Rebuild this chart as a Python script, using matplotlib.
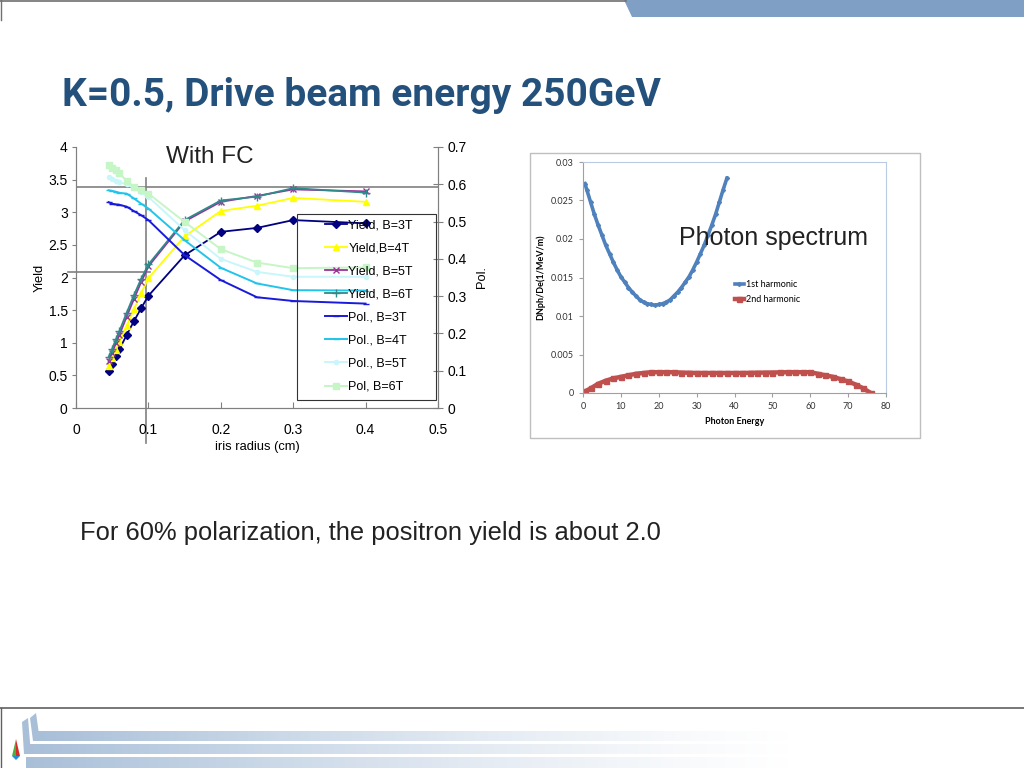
import matplotlib
matplotlib.use("Agg")
import matplotlib.pyplot as plt
import numpy as np
from matplotlib.patches import Polygon, Rectangle
from matplotlib.ticker import FuncFormatter

# ---- data ----
radius = [0.045, 0.05, 0.055, 0.06, 0.07, 0.08, 0.09, 0.1, 0.15, 0.2, 0.25, 0.3, 0.4]

yield_3t = [0.56, 0.67, 0.79, 0.90, 1.12, 1.33, 1.53, 1.72, 2.34, 2.70, 2.76, 2.88, 2.83]
yield_4t = [0.64, 0.76, 0.89, 1.01, 1.26, 1.51, 1.76, 1.99, 2.63, 3.02, 3.10, 3.22, 3.16]
yield_5t = [0.72, 0.85, 0.99, 1.12, 1.40, 1.67, 1.93, 2.17, 2.86, 3.16, 3.25, 3.35, 3.32]
yield_6t = [0.78, 0.91, 1.05, 1.18, 1.46, 1.73, 1.98, 2.20, 2.88, 3.18, 3.24, 3.37, 3.30]

pol_3t = [0.552, 0.548, 0.546, 0.545, 0.540, 0.528, 0.517, 0.504, 0.410, 0.343, 0.297, 0.287, 0.280]
pol_4t = [0.584, 0.582, 0.580, 0.577, 0.575, 0.562, 0.548, 0.535, 0.450, 0.376, 0.334, 0.316, 0.315]
pol_5t = [0.620, 0.615, 0.610, 0.605, 0.600, 0.590, 0.578, 0.566, 0.477, 0.400, 0.365, 0.352, 0.352]
pol_6t = [0.651, 0.645, 0.638, 0.629, 0.609, 0.593, 0.584, 0.575, 0.499, 0.426, 0.390, 0.375, 0.377]

yield_labels = ["Yield, B=3T", "Yield,B=4T", "Yield, B=5T", "Yield, B=6T"]
pol_labels = ["Pol., B=3T", "Pol., B=4T", "Pol., B=5T", "Pol, B=6T"]

energy_1st = [0.5, 1, 2, 3, 4, 5, 6, 7, 8, 9, 10, 11, 12, 13, 14, 15, 16, 17, 18, 19,
              20, 21, 22, 23, 24, 25, 26, 27, 28, 29, 30, 31, 32, 33, 34, 35, 36, 37, 38]
spec_1st = [0.0272, 0.0264, 0.0248, 0.0232, 0.0218, 0.0205, 0.0192, 0.0181, 0.0170, 0.0160,
            0.0151, 0.0144, 0.0137, 0.0131, 0.0126, 0.0121, 0.0118, 0.0116, 0.0115, 0.0114,
            0.0115, 0.0116, 0.0118, 0.0121, 0.0126, 0.0131, 0.0137, 0.0144, 0.0151, 0.0160,
            0.0170, 0.0181, 0.0192, 0.0205, 0.0218, 0.0232, 0.0248, 0.0264, 0.0279]

energy_2nd = [0.5, 2, 4, 6, 8, 10, 12, 14, 16, 18, 20, 22, 24, 26, 28, 30, 32, 34, 36, 38,
              40, 42, 44, 46, 48, 50, 52, 54, 56, 58, 60, 62, 64, 66, 68, 70, 72, 74, 76]
spec_2nd = [0.0002, 0.0006, 0.0012, 0.0016, 0.0019, 0.0021, 0.0023, 0.0025, 0.0026, 0.0027,
            0.0027, 0.0027, 0.0027, 0.00265, 0.00263, 0.0026, 0.0026, 0.0026, 0.0026, 0.0026,
            0.0026, 0.0026, 0.00262, 0.00264, 0.00265, 0.00266, 0.00268, 0.0027, 0.0027, 0.0027,
            0.0027, 0.0025, 0.0023, 0.0021, 0.0018, 0.0015, 0.0011, 0.0006, 0.0]

TITLE_BLUE = "#24507c"
ARIAL = "Liberation Sans"
fmt_g = FuncFormatter(lambda v, p: "{:g}".format(round(v, 3)))

fig = plt.figure(figsize=(10.24, 7.68), dpi=100)

# ---- slide background decorations (pixel coords) ----
bg = fig.add_axes([0, 0, 1, 1], zorder=-5)
bg.axis("off")

bg.add_patch(Polygon([[624, 0], [1024, 0], [1024, 17], [632, 17]], closed=True,
                     facecolor="#7f9fc4", edgecolor="none"))
bg.plot([0, 626], [1, 1], color="#707070", lw=1.2)
bg.plot([1, 1], [0, 20], color="#707070", lw=1.0)
bg.plot([0, 1024], [708, 708], color="#606060", lw=1.2)
bg.plot([1, 1], [708, 768], color="#606060", lw=1.0)


def grad_band(x0, x1, y0, y1):
    n = 256
    rgba = np.zeros((1, n, 4))
    rgba[..., 0] = 0.66
    rgba[..., 1] = 0.75
    rgba[..., 2] = 0.85
    rgba[0, :, 3] = np.linspace(1, 0, n) ** 1.3
    bg.imshow(rgba, extent=(x0, x1, y1, y0), aspect="auto", interpolation="bilinear")


grad_band(38, 800, 731, 741)
grad_band(26, 800, 744, 754)
grad_band(26, 800, 757, 768)
bg.add_patch(Polygon([[30, 718], [36, 713], [40, 741], [33, 741]], facecolor="#a9bfd8", edgecolor="none"))
bg.add_patch(Polygon([[22, 722], [28, 718], [31, 754], [24, 754]], facecolor="#a9bfd8", edgecolor="none"))
bg.add_patch(Polygon([[16, 739], [12, 756], [16, 756]], facecolor="#4caf3c", edgecolor="none"))
bg.add_patch(Polygon([[16, 739], [20, 756], [16, 756]], facecolor="#d62b2b", edgecolor="none"))
bg.add_patch(Polygon([[12, 756], [20, 756], [16, 760]], facecolor="#1f8fd6", edgecolor="none"))

# right chart frame
bg.add_patch(Rectangle((530, 153), 390, 285, facecolor="white", edgecolor="#bfbfbf", lw=1))
bg.set_xlim(0, 1024)
bg.set_ylim(768, 0)

fig.text(62 / 1024, 1 - 95 / 768, "K=0.5, Drive beam energy 250GeV",
         fontsize=28, fontweight="bold", color=TITLE_BLUE, va="center", ha="left",
         family=["Roboto", "DejaVu Sans"])
fig.text(80 / 1024, 1 - 533 / 768, "For 60% polarization, the positron yield is about 2.0",
         fontsize=18.4, color="#222222", va="center", ha="left", family=ARIAL)

# ---- left chart: yield and polarization ----
ax = fig.add_axes([76 / 1024, 1 - 408 / 768, 362 / 1024, 261 / 768])
ax2 = ax.twinx()
for a in (ax, ax2):
    a.spines["top"].set_visible(False)
    for s in a.spines.values():
        s.set_color("#808080")

ax.plot(radius, yield_3t, color="#000080", marker="D", ms=4, lw=1.3, label=yield_labels[0], zorder=5)
ax.plot(radius, yield_4t, color="#ffff00", marker="^", ms=5, lw=1.3, label=yield_labels[1], zorder=5)
ax.plot(radius, yield_5t, color="#993399", marker="x", ms=4.5, lw=1.3, label=yield_labels[2], zorder=5)
ax.plot(radius, yield_6t, color="#2f8a8a", marker="+", ms=6, lw=1.3, label=yield_labels[3], zorder=5)

ax2.plot(radius, pol_3t, color="#1a1adc", marker="_", ms=5, lw=1.4, label=pol_labels[0])
ax2.plot(radius, pol_4t, color="#22c4ea", marker="_", ms=5, lw=1.4, label=pol_labels[1])
ax2.plot(radius, pol_5t, color="#c8f6fa", marker="o", ms=3, lw=1.4, label=pol_labels[2])
ax2.plot(radius, pol_6t, color="#c6f5c6", marker="s", ms=4.5, lw=1.4, label=pol_labels[3])

ax.set_xlim(0, 0.5)
ax.set_ylim(0, 4)
ax2.set_ylim(0, 0.7)
ax.set_xticks([0, 0.1, 0.2, 0.3, 0.4, 0.5])
ax.set_yticks([0, 0.5, 1, 1.5, 2, 2.5, 3, 3.5, 4])
ax2.set_yticks([0, 0.1, 0.2, 0.3, 0.4, 0.5, 0.6, 0.7])
for a in (ax, ax2):
    a.xaxis.set_major_formatter(fmt_g)
    a.yaxis.set_major_formatter(fmt_g)
ax.tick_params(axis="y", direction="out", length=3, color="#808080", labelsize=10, pad=3)
ax.tick_params(axis="x", direction="in", length=4, color="#808080", labelsize=10, pad=11)
ax2.tick_params(axis="y", direction="inout", length=7, color="#808080", labelsize=10, pad=3)
for lab in ax.get_xticklabels() + ax.get_yticklabels() + ax2.get_yticklabels():
    lab.set_family(ARIAL)

ax.set_xlabel("iris radius (cm)", fontsize=9.3, family=ARIAL, labelpad=3)
ax.set_ylabel("Yield", fontsize=9.3, family=ARIAL, labelpad=2)
ax2.set_ylabel("Pol.", fontsize=9.3, family=ARIAL, labelpad=7)

# guide lines
ax.axhline(3.39, color="#808080", lw=1.2, zorder=1)
ax.plot([-0.011, 0.102], [2.08, 2.08], color="#808080", lw=1.2, clip_on=False, zorder=1)
ax.plot([0.0967, 0.0967], [3.52, -0.54], color="#808080", lw=1.2, clip_on=False, zorder=1)

ax.text(0.185, 3.85, "With FC", fontsize=17.5, family=ARIAL, color="#222222",
        ha="center", va="center")

# legend box and entries
ax2.add_patch(Rectangle((0.6105, 0.0307), 0.384, 0.7126, transform=ax2.transAxes,
                        facecolor="none", edgecolor="#333333", lw=0.8, zorder=6))
h1, l1 = ax.get_legend_handles_labels()
h2, l2 = ax2.get_legend_handles_labels()
ax2.legend(h1 + h2, l1 + l2, loc="upper left", bbox_to_anchor=(0.688, 0.722),
           prop={"family": ARIAL, "size": 9}, labelspacing=0.884, borderpad=0,
           borderaxespad=0, handlelength=1.76, handletextpad=0.1, frameon=False)

# ---- right chart: photon spectrum ----
bx = fig.add_axes([583 / 1024, 1 - 393 / 768, 303 / 1024, 231 / 768])
bx.plot(energy_1st, spec_1st, color="#4f81bd", lw=2.6, marker="D", ms=2, label="1st harmonic")
bx.plot(energy_2nd, spec_2nd, color="#c0504d", lw=3.2, marker="s", ms=3.6, label="2nd harmonic")
bx.set_xlim(0, 80)
bx.set_ylim(0, 0.03)
bx.set_xticks(range(0, 81, 10))
bx.set_yticks([0, 0.005, 0.01, 0.015, 0.02, 0.025, 0.03])
bx.yaxis.set_major_formatter(fmt_g)
for s in ("top", "right"):
    bx.spines[s].set_color("#b9cbe3")
for s in ("left", "bottom"):
    bx.spines[s].set_color("#a0a0a0")
bx.tick_params(direction="out", length=3, color="#a0a0a0", labelsize=6.5, labelcolor="#333333")
for lab in bx.get_xticklabels() + bx.get_yticklabels():
    lab.set_family("Lato")
bx.set_xlabel("Photon Energy", fontsize=6.5, fontweight="bold", family="Lato", labelpad=4)
bx.set_ylabel("DNph/De(1/MeV/m)", fontsize=6.5, fontweight="bold", family="Lato", labelpad=4)
bx.text(0.94, 0.671, "Photon spectrum", transform=bx.transAxes, fontsize=18,
        family=ARIAL, color="#222222", ha="right", va="center")
bx.legend(loc="upper left", bbox_to_anchor=(0.50, 0.488), frameon=False, borderpad=0,
          borderaxespad=0, prop={"family": "Lato", "size": 6.5}, handlelength=1.1,
          handletextpad=0.2, labelspacing=0.6)

fig.savefig("out.png", dpi=100)
